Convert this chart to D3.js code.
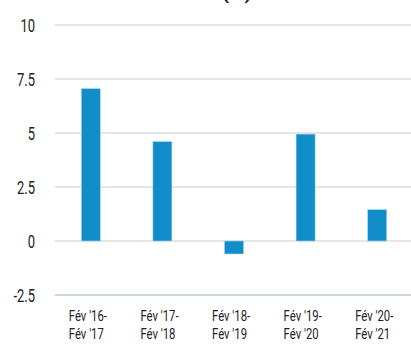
<!DOCTYPE html>
<html>
<head>
<meta charset="utf-8">
<script src="https://cdn.jsdelivr.net/npm/d3@7"></script>
<style>
  html, body { margin: 0; padding: 0; background: #fff; }
  svg { display: block; }
  text { font-family: Roboto, "Liberation Sans", sans-serif; fill: #222; }
</style>
</head>
<body>
<svg id="chart" width="411" height="347"></svg>
<script>
// Annual returns by February-to-February period (%)
const periods = ["Fév '16-|Fév '17", "Fév '17-|Fév '18", "Fév '18-|Fév '19", "Fév '19-|Fév '20", "Fév '20-|Fév '21"];
const returns = [7.05, 4.6, -0.6, 4.95, 1.45];
const yTicks = [-2.5, 0, 2.5, 5, 7.5, 10];
const title = "Rendements annuels (%)";

const svg = d3.select("#chart");
const W = 411;
const narrow = 0.7; // horizontal squeeze for a condensed look

const x = d3.scaleBand()
  .domain(periods)
  .range([55, 413])
  .paddingInner(0.735)
  .paddingOuter(0.3675);

const y = d3.scaleLinear()
  .domain([-2.5, 10])
  .range([295, 25]);

// Title, running off the top edge
svg.append("text")
  .attr("x", 18)
  .attr("y", -1)
  .attr("textLength", 234)
  .attr("lengthAdjust", "spacingAndGlyphs")
  .style("font-weight", "bold")
  .style("font-size", "20px")
  .text(title);

// Grid lines
svg.append("g")
  .selectAll("line")
  .data(yTicks)
  .join("line")
  .attr("x1", 55)
  .attr("x2", W)
  .attr("y1", d => y(d))
  .attr("y2", d => y(d))
  .attr("stroke", d => d === -2.5 ? "#b9c8d8" : "#dedede")
  .attr("stroke-width", 1.5);

// Y axis labels
const yAxis = d3.axisLeft(y).tickValues(yTicks).tickSize(0).tickPadding(0)
  .tickFormat(d => String(d));
svg.append("g")
  .attr("transform", "translate(35,0)")
  .call(yAxis)
  .call(g => g.select(".domain").remove())
  .call(g => g.selectAll("text")
    .style("font-family", "Roboto, sans-serif")
    .style("font-size", "18.5px")
    .attr("fill", "#222")
    .attr("dy", "0.36em")
    .attr("transform", `scale(${narrow},1)`));

// Bars
svg.append("g")
  .selectAll("rect")
  .data(returns)
  .join("rect")
  .attr("x", (d, i) => x(periods[i]))
  .attr("width", x.bandwidth())
  .attr("y", d => y(Math.max(0, d)))
  .attr("height", d => Math.abs(y(d) - y(0)))
  .attr("fill", "#118dc9")
  .attr("stroke", "#9fd2ee")
  .attr("stroke-width", 0.6);

// X axis labels, two lines each
const xl = svg.append("g")
  .selectAll("text")
  .data(periods)
  .join("text")
  .attr("transform", d => `translate(${x(d) + x.bandwidth() / 2 - 22},321) scale(0.78,1)`)
  .style("font-size", "14.5px");
xl.each(function(d) {
  const t = d3.select(this);
  d.split("|").forEach((p, k) => {
    t.append("tspan")
      .attr("x", 0)
      .attr("dy", k === 0 ? 0 : 18)
      .text(p);
  });
});
</script>
</body>
</html>
